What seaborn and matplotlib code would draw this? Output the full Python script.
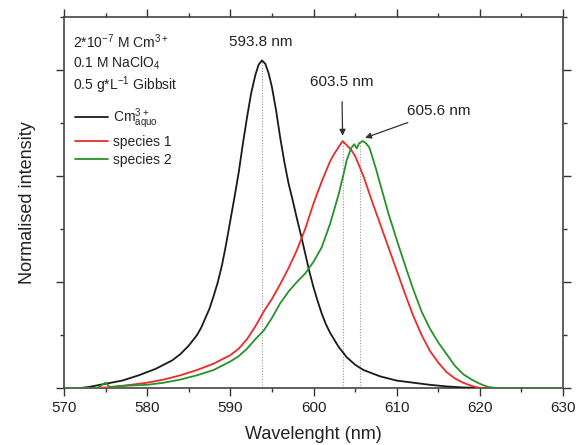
import matplotlib
matplotlib.use("Agg")
import matplotlib.pyplot as plt
from matplotlib.lines import Line2D
from matplotlib.ticker import MultipleLocator
import numpy as np
import pandas as pd
import seaborn as sns

# values (wavelength in nm, intensity in axis units)
aquo_x = [570, 572, 573, 575, 577, 579, 580, 581, 582, 583, 584, 585, 586, 586.5, 587,
          587.5, 588, 588.5, 589, 589.5, 590, 590.5, 591, 591.5, 592, 592.5, 593,
          593.4, 593.8, 594.2, 594.6, 595, 595.5, 596, 596.5, 597, 597.5, 598, 598.5,
          599, 599.5, 600, 600.5, 601, 601.5, 602, 603, 604, 605, 606, 607, 608, 610,
          612, 614, 616, 618, 620, 630]
aquo_y = [0.0, 0.0, 0.01, 0.04, 0.07, 0.12, 0.15, 0.18, 0.22, 0.26, 0.32, 0.40, 0.50,
          0.57, 0.66, 0.75, 0.87, 1.00, 1.16, 1.36, 1.58, 1.80, 2.03, 2.30, 2.55, 2.78,
          2.95, 3.05, 3.09, 3.06, 2.97, 2.84, 2.62, 2.36, 2.13, 1.93, 1.77, 1.60, 1.44,
          1.27, 1.10, 0.95, 0.82, 0.70, 0.60, 0.52, 0.39, 0.29, 0.22, 0.17, 0.14, 0.11,
          0.07, 0.05, 0.03, 0.015, 0.005, 0.0, 0.0]

sp1_x = [570, 574, 576, 578, 580, 582, 584, 586, 588, 590, 591, 592, 593, 594, 595,
         596, 597, 598, 599, 600, 601, 602, 602.5, 603, 603.5, 604, 604.5, 605, 606,
         607, 608, 609, 610, 611, 612, 613, 614, 615, 616, 617, 618, 619, 620, 630]
sp1_y = [0.0, 0.0, 0.01, 0.03, 0.05, 0.08, 0.12, 0.17, 0.23, 0.31, 0.37, 0.46, 0.58,
         0.72, 0.84, 0.98, 1.13, 1.30, 1.50, 1.74, 1.95, 2.14, 2.21, 2.27, 2.33, 2.29,
         2.25, 2.19, 2.00, 1.77, 1.55, 1.33, 1.11, 0.89, 0.68, 0.50, 0.35, 0.24, 0.15,
         0.09, 0.05, 0.02, 0.0, 0.0]

sp2_x = [570, 574, 575, 575.5, 577, 580, 582, 584, 586, 588, 590, 591, 592, 593, 594,
         595, 596, 597, 598, 599, 600, 601, 602, 603, 603.5, 604, 604.5, 604.9, 605.2,
         605.5, 605.9, 606.3, 606.7, 607, 607.5, 608, 609, 610, 611, 612, 613, 614,
         615, 616, 617, 618, 619, 620, 621, 622, 630]
sp2_y = [0.0, 0.0, 0.05, 0.01, 0.02, 0.03, 0.05, 0.08, 0.12, 0.17, 0.25, 0.30, 0.37,
         0.46, 0.54, 0.66, 0.80, 0.91, 1.00, 1.08, 1.19, 1.33, 1.55, 1.82, 1.98, 2.15,
         2.26, 2.30, 2.26, 2.31, 2.33, 2.31, 2.27, 2.20, 2.07, 1.93, 1.65, 1.40, 1.16,
         0.93, 0.72, 0.56, 0.43, 0.32, 0.21, 0.13, 0.08, 0.04, 0.01, 0.0, 0.0]

peak_pos = [593.8, 603.5, 605.6]
peak_height = [3.09, 2.33, 2.32]

series_names = ["aquo", "species 1", "species 2"]
legend_labels = ["Cm$^{3+}_{aquo}$", "species 1", "species 2"]
palette = {"aquo": "#1a1a1a", "species 1": "#ee2a2a", "species 2": "#27922a"}

sns.set_style("ticks")
plt.rcParams["font.family"] = ["Liberation Sans", "DejaVu Sans"]
plt.rcParams["mathtext.default"] = "regular"

df = pd.concat([
    pd.DataFrame({"wl": aquo_x, "I": aquo_y, "s": "aquo"}),
    pd.DataFrame({"wl": sp1_x, "I": sp1_y, "s": "species 1"}),
    pd.DataFrame({"wl": sp2_x, "I": sp2_y, "s": "species 2"}),
], ignore_index=True)

fig = plt.figure(figsize=(5.76, 4.45), dpi=100)
ax = fig.add_axes([64 / 576, 57 / 445, 499 / 576, 371 / 445])

# dotted markers under the peaks
for xp, yp in zip(peak_pos, peak_height):
    ax.plot([xp, xp], [0, yp], color="#999999", lw=0.8, ls=(0, (1, 1.5)), zorder=1)

sns.lineplot(data=df, x="wl", y="I", hue="s", palette=palette, sort=False,
             estimator=None, lw=1.3, ax=ax, legend=False, zorder=3)

ax.set_xlim(570, 630)
ax.set_ylim(0, 3.5)
ax.xaxis.set_major_locator(MultipleLocator(10))
ax.xaxis.set_minor_locator(MultipleLocator(5))
ax.yaxis.set_major_locator(MultipleLocator(1))
ax.yaxis.set_minor_locator(MultipleLocator(0.5))
ax.tick_params(which="both", direction="out", top=True, right=True, color="#333333",
               width=1.0, labelsize=11, labelcolor="#222222", labelleft=False)
ax.tick_params(which="major", length=6)
ax.tick_params(which="minor", length=3)
for sp in ax.spines.values():
    sp.set_color("#444444")
    sp.set_linewidth(1.2)

ax.set_xlabel("Wavelenght (nm)", fontsize=13, color="#222222", labelpad=8)
ax.set_ylabel("Normalised intensity", fontsize=13, color="#222222", labelpad=14)

# sample description
info = ["2*10$^{-7}$ M Cm$^{3+}$", "0.1 M NaClO$_4$", "0.5 g*L$^{-1}$ Gibbsit"]
for txt, yy in zip(info, [0.933, 0.876, 0.815]):
    ax.text(0.018, yy, txt, transform=ax.transAxes, fontsize=10, va="center",
            color="#222222")

# peak labels
ax.text(593.7, 3.26, "593.8 nm", ha="center", va="center", fontsize=11, color="#222222")
ax.annotate("603.5 nm", xy=(603.5, 2.38), xytext=(603.4, 2.89), ha="center",
            va="center", fontsize=11, color="#222222",
            arrowprops=dict(arrowstyle="-|>", color="#333333", lw=0.9,
                            mutation_scale=9, shrinkA=7, shrinkB=0))
ax.annotate("605.6 nm", xy=(606.2, 2.36), xytext=(611.3, 2.61), ha="left",
            va="center", fontsize=11, color="#222222",
            arrowprops=dict(arrowstyle="-|>", color="#333333", lw=0.9,
                            mutation_scale=9, shrinkA=2, shrinkB=0))

handles = [Line2D([], [], color=palette[n], lw=1.3) for n in series_names]
ax.legend(handles, legend_labels, loc="upper left", bbox_to_anchor=(0.0, 0.79),
          frameon=False, fontsize=10, handlelength=2.4, handletextpad=0.3,
          labelspacing=0.3, borderaxespad=0.4)

fig.savefig("out.png", dpi=100)
